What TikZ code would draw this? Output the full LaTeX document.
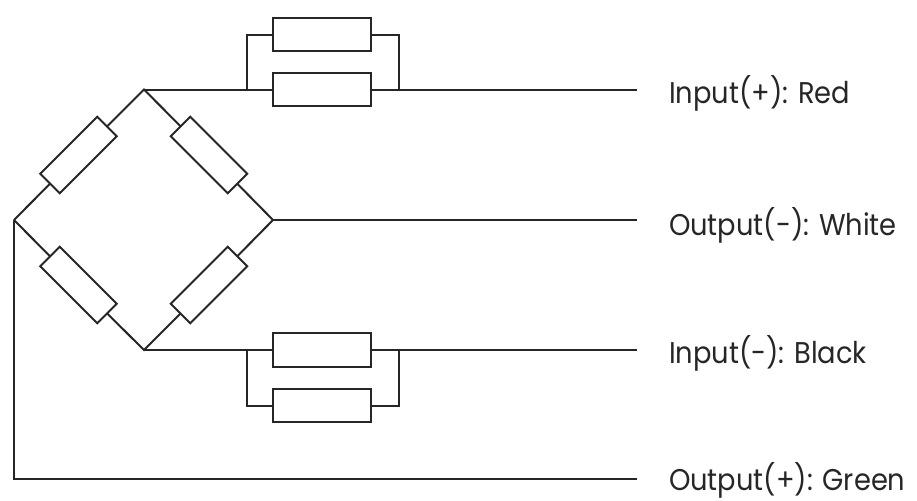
\documentclass[tikz,border=0pt]{standalone}
\usepackage{fontspec}
\setmainfont{Poppins}[FakeStretch=0.91]
\tikzset{
  wire/.style={line width=1.5pt,draw=black!85,line join=miter},
  res/.style={draw=black!85,line width=1.5pt,fill=white,rectangle,inner sep=0pt,outer sep=0pt,minimum width=60.5pt,minimum height=20.7pt},
  hres/.style={draw=black!85,line width=1.5pt,fill=white,rectangle,inner sep=0pt,outer sep=0pt,minimum width=73.5pt,minimum height=24.8pt},
  lab/.style={anchor=base west,inner sep=0pt,outer sep=0pt,text=black!85,font=\fontsize{22.5pt}{27pt}\selectfont}
}
\begin{document}
\begin{tikzpicture}[x=0.75pt,y=-0.75pt]
\useasboundingbox (0,0) rectangle (917,500);
\coordinate (T) at (144,89.5);
\coordinate (L) at (14,220);
\coordinate (R) at (273,220);
\coordinate (B) at (144,350);
\coordinate (G) at (14,479);
\coordinate (E1) at (637,89.5);
\coordinate (E2) at (637,220);
\coordinate (E3) at (637,350);
\coordinate (E4) at (637,479);
\coordinate (J1) at (246.5,89.5);
\coordinate (J2) at (398.5,89.5);
\coordinate (J3) at (246.5,350);
\coordinate (J4) at (398.5,350);
\node[res,rotate=45] (UL) at (78.5,155) {};
\node[res,rotate=-45] (UR) at (209,155) {};
\node[res,rotate=-45] (LL) at (78.5,285) {};
\node[res,rotate=45] (LR) at (209,285) {};
\node[hres] (A1) at (322,34.5) {};
\node[hres] (A2) at (322,89.5) {};
\node[hres] (B1) at (322,350) {};
\node[hres] (B2) at (322,405.5) {};
\draw[wire] (L) -- (UL) (UL) -- (T) -- (UR) (UR) -- (R) -- (LR) (LR) -- (B) -- (LL) (LL) -- (L);
\draw[wire] (T) -- (A2.west) (A2.east) -- (E1);
\draw[wire] (J1) |- (A1.west) (A1.east) -| (J2);
\draw[wire] (R) -- (E2);
\draw[wire] (B) -- (B1.west) (B1.east) -- (E3);
\draw[wire] (J3) |- (B2.west) (B2.east) -| (J4);
\draw[wire] (L) -- (G) -- (E4);
\node[lab] (t1) at (669,103) {Input(+): Red};
\node[lab] (t2) at (669,235) {Output(-): White};
\node[lab] (t3) at (669,363) {Input(-): Black};
\node[lab] (t4) at (669,490) {Output(+): Green};
\end{tikzpicture}
\end{document}
